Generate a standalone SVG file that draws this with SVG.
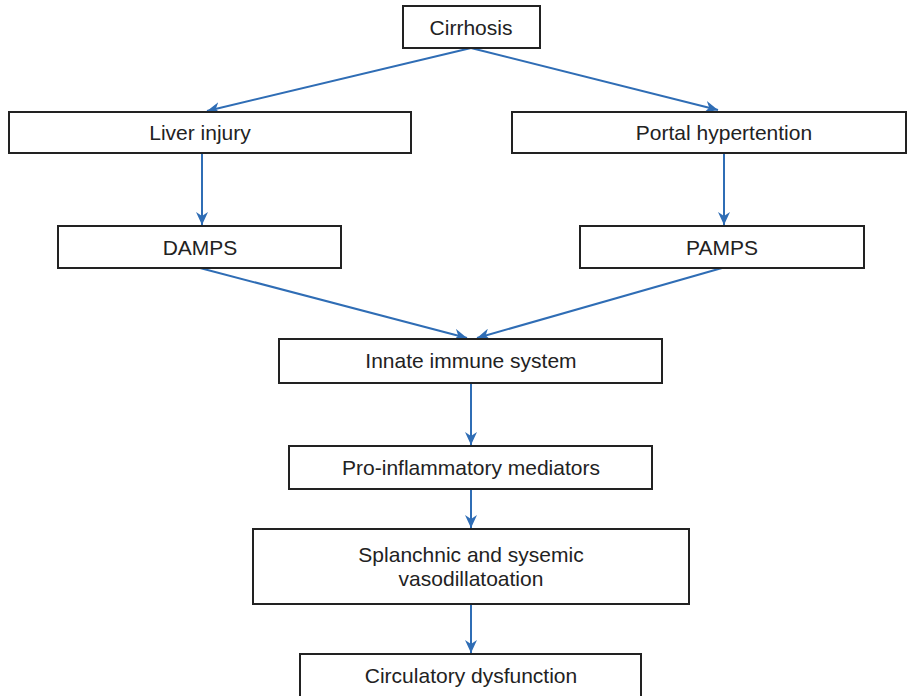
<svg xmlns="http://www.w3.org/2000/svg" width="907" height="696" viewBox="0 0 907 696">
<style>
.box{fill:#fff;stroke:#222;stroke-width:2}
.t{font-family:"Liberation Sans",Arial,sans-serif;font-size:21px;fill:#222;text-anchor:middle}
.c{stroke:#2f6db5;stroke-width:2;fill:none}
</style>
<defs>
<marker id="ah" markerUnits="userSpaceOnUse" markerWidth="14" markerHeight="12" refX="13" refY="6" orient="auto">
<path d="M0,0 L13,6 L0,12 L4,6 Z" fill="#2f6db5"/>
</marker>
</defs>
<rect width="907" height="696" fill="#fff"/>
<g id="connectors">
<line class="c" x1="471" y1="48" x2="207" y2="111" marker-end="url(#ah)"/>
<line class="c" x1="471" y1="48" x2="718" y2="110" marker-end="url(#ah)"/>
<line class="c" x1="202" y1="153" x2="202" y2="225" marker-end="url(#ah)"/>
<line class="c" x1="724" y1="153" x2="724" y2="225" marker-end="url(#ah)"/>
<line class="c" x1="200" y1="268" x2="467" y2="338" marker-end="url(#ah)"/>
<line class="c" x1="722" y1="268" x2="477" y2="338" marker-end="url(#ah)"/>
<line class="c" x1="471" y1="383" x2="471" y2="445" marker-end="url(#ah)"/>
<line class="c" x1="471" y1="489" x2="471" y2="528" marker-end="url(#ah)"/>
<line class="c" x1="471" y1="604" x2="471" y2="653" marker-end="url(#ah)"/>
</g>
<g id="cirrhosis"><rect class="box" x="403" y="6" width="137" height="42"/><text class="t" x="471" y="35">Cirrhosis</text></g>
<g id="liver"><rect class="box" x="9" y="112" width="402" height="41"/><text class="t" x="200" y="140">Liver injury</text></g>
<g id="portal"><rect class="box" x="512" y="112" width="394" height="41"/><text class="t" x="724" y="140">Portal hypertention</text></g>
<g id="damps"><rect class="box" x="58" y="226" width="283" height="42"/><text class="t" x="200" y="255">DAMPS</text></g>
<g id="pamps"><rect class="box" x="580" y="226" width="284" height="42"/><text class="t" x="722" y="255">PAMPS</text></g>
<g id="innate"><rect class="box" x="279" y="339" width="383" height="44"/><text class="t" x="471" y="368">Innate immune system</text></g>
<g id="proinf"><rect class="box" x="289" y="446" width="363" height="43"/><text class="t" x="471" y="475">Pro-inflammatory mediators</text></g>
<g id="splanchnic"><rect class="box" x="253" y="529" width="436" height="75"/><text class="t" x="471" y="562">Splanchnic and sysemic</text><text class="t" x="471" y="586">vasodillatoation</text></g>
<g id="circulatory"><rect class="box" x="300" y="654" width="341" height="50"/><text class="t" x="471" y="683">Circulatory dysfunction</text></g>
</svg>
